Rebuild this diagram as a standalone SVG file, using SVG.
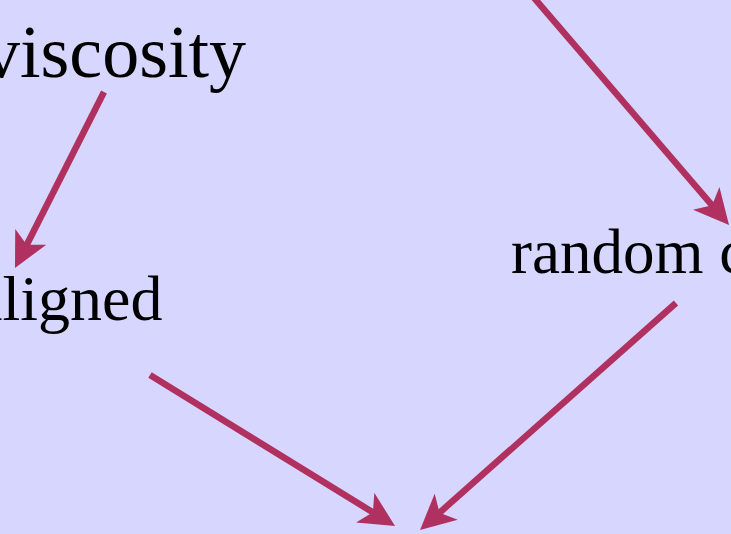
<svg xmlns="http://www.w3.org/2000/svg" width="731" height="534" viewBox="0 0 731 534">
  <style>
    .lbl { font-family: "Liberation Serif", "Times New Roman", serif; fill: #000; }
    .edge { stroke: #b03060; stroke-width: 6.5; fill: none; marker-end: url(#ah); }
  </style>
  <defs>
    <marker id="ah" markerUnits="userSpaceOnUse" viewBox="0 -18 36 36" markerWidth="36" markerHeight="36" refX="15" refY="0" orient="auto">
      <path d="M0,-17.4 L35,0 L0,17.4 L9,0 Z" fill="#b03060"/>
    </marker>
  </defs>
  <rect x="0" y="0" width="731" height="534" fill="#d6d6ff"/>
  <g id="node-viscosity"><text class="lbl" x="-17" y="77" font-size="74">viscosity</text></g>
  <g id="node-aligned"><text class="lbl" x="-26" y="320" font-size="64">aligned</text></g>
  <g id="node-random"><text class="lbl" x="511" y="273" font-size="63">random coil</text></g>
  <g id="connectors">
    <line class="edge" x1="104" y1="92" x2="24" y2="250.2"/>
    <line class="edge" x1="150" y1="375" x2="378" y2="515.5"/>
    <line class="edge" x1="676" y1="303" x2="435" y2="516.7"/>
    <line class="edge" x1="523" y1="-15" x2="716" y2="209.8"/>
  </g>
</svg>
